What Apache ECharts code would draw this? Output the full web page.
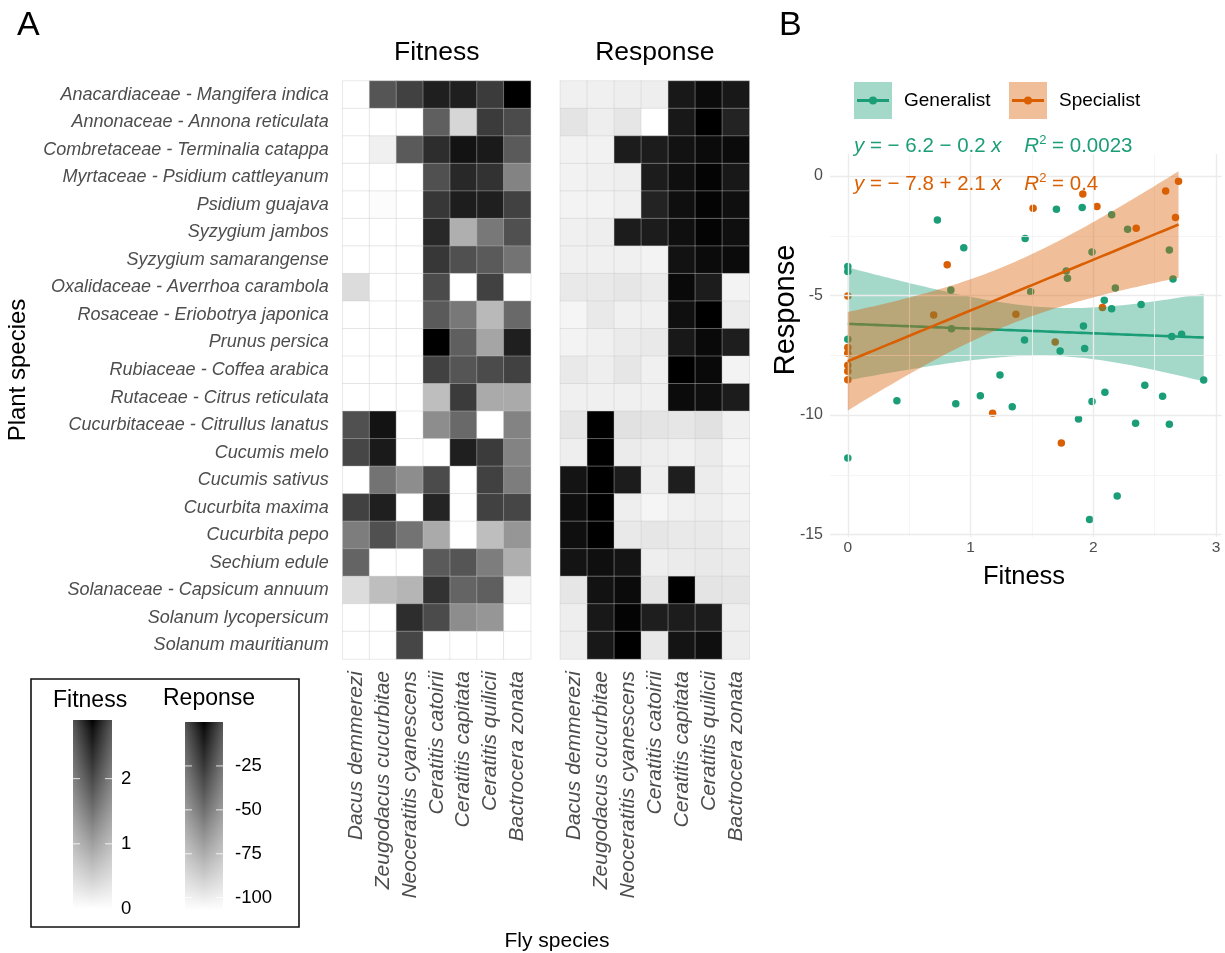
<!DOCTYPE html>
<html><head><meta charset="utf-8">
<script src="https://cdn.jsdelivr.net/npm/echarts@6/dist/echarts.min.js"></script>
<style>html,body{margin:0;padding:0;background:#fff}#c{width:1225px;height:953px}</style>
</head><body><div id="c"></div>
<script>
// ---------- DATA ----------
const plants = [
  'Anacardiaceae - Mangifera indica','Annonaceae - Annona reticulata','Combretaceae - Terminalia catappa',
  'Myrtaceae - Psidium cattleyanum','Psidium guajava','Syzygium jambos','Syzygium samarangense',
  'Oxalidaceae - Averrhoa carambola','Rosaceae - Eriobotrya japonica','Prunus persica',
  'Rubiaceae - Coffea arabica','Rutaceae - Citrus reticulata','Cucurbitaceae - Citrullus lanatus',
  'Cucumis melo','Cucumis sativus','Cucurbita maxima','Cucurbita pepo','Sechium edule',
  'Solanaceae - Capsicum annuum','Solanum lycopersicum','Solanum mauritianum'
];
const flies = ['Dacus demmerezi','Zeugodacus cucurbitae','Neoceratitis cyanescens','Ceratitis catoirii',
  'Ceratitis capitata','Ceratitis quilicii','Bactrocera zonata'];

const fitnessValues = [
  [0, 1.85, 2.10, 2.56, 2.56, 2.17, 2.90],
  [0, 0, 0, 1.73, 0.41, 2.17, 1.98],
  [0, 0.15, 1.79, 2.37, 2.72, 2.62, 1.79],
  [0, 0, 0, 1.91, 2.43, 2.30, 1.32],
  [0, 0.03, 0, 2.23, 2.58, 2.56, 2.10],
  [0, 0, 0, 2.43, 0.83, 1.44, 1.91],
  [0, 0, 0, 2.23, 1.91, 1.79, 1.49],
  [0.35, 0, 0, 1.98, 0, 2.10, 0],
  [0, 0, 0, 1.79, 1.44, 0.72, 1.61],
  [0, 0, 0, 2.90, 1.73, 0.94, 2.56],
  [0, 0, 0, 2.10, 1.85, 1.98, 2.10],
  [0, 0, 0, 0.67, 2.17, 0.88, 0.88],
  [1.91, 2.72, 0, 1.21, 1.61, 0, 1.32],
  [2.04, 2.62, 0, 0, 2.56, 2.17, 1.32],
  [0, 1.49, 1.21, 1.98, 0, 2.10, 1.38],
  [2.10, 2.56, 0, 2.49, 0, 2.10, 2.04],
  [1.38, 1.91, 1.49, 0.88, 0, 0.67, 1.10],
  [1.67, 0, 0, 1.79, 1.85, 1.38, 0.83],
  [0.35, 0.67, 0.77, 2.30, 1.67, 1.73, 0.12],
  [0, 0, 2.37, 1.98, 1.21, 1.10, 0],
  [0, 0, 2.04, 0, 0, 0, 0]
];
const responseValues = [
  [-101.4, -101.4, -100.7, -100.7, -9.3, -3.5, -9.3],
  [-96.9, -100.7, -97.7, -107.0, -9.3, 0, -14.7],
  [-102.2, -102.2, -11.0, -11.0, -5.9, -3.5, -3.5],
  [-102.2, -101.4, -100.7, -11.0, -4.6, -1.4, -9.3],
  [-102.5, -102.5, -101.4, -14.7, -4.6, -1.4, -4.6],
  [-101.4, -100.7, -11.0, -11.0, -4.6, -1.4, -4.6],
  [-101.4, -101.4, -101.4, -102.5, -5.9, -3.5, -3.5],
  [-98.8, -98.8, -97.7, -99.5, -2.9, -11.0, -102.5],
  [-103.3, -98.8, -101.4, -101.4, -4.6, 0, -99.9],
  [-102.5, -101.4, -99.5, -98.8, -9.3, -2.9, -12.0],
  [-98.8, -100.7, -97.7, -101.4, 0, -2.9, -102.5],
  [-101.4, -101.4, -101.4, -101.4, -3.5, -4.6, -11.0],
  [-97.7, 0, -95.8, -96.9, -97.7, -95.8, -101.4],
  [-100.7, 0, -99.5, -100.7, -101.4, -99.5, -103.3],
  [-6.8, 0, -11.0, -100.7, -12.0, -99.9, -102.5],
  [-4.6, 0, -100.7, -103.3, -101.4, -100.7, -102.5],
  [-4.6, 0, -98.8, -97.7, -98.8, -98.8, -100.7],
  [-6.8, -4.6, -6.8, -100.7, -99.5, -98.8, -99.5],
  [-97.7, -5.9, -3.5, -96.9, 0, -96.9, -97.7],
  [-100.7, -9.3, -1.4, -12.0, -11.0, -11.0, -100.7],
  [-100.7, -9.3, 0, -98.5, -6.8, -4.6, -100.7]
];
const fitnessRange = [0, 2.9];
const responseRange = [-107, 0];
const fitnessLegendTicks = [0, 1, 2];
const responseLegendTicks = [-100, -75, -50, -25];

const generalistFitness = [0, 0, 0.73, 0.945, 0.84, 1.445, 1.49, 1.70, 1.91, 1.78, 1.79, 1.99, 2.15, 2.28, 2.18,
  2.09, 2.15, 2.39, 2.62, 2.65, 0.845, 0, 1.92, 1.44, 1.73, 1.93, 2.64, 2.72, 2.90, 1.24, 0.40, 0.88, 1.08,
  1.34, 2.095, 1.99, 2.42, 2.565, 1.88, 2.345, 2.62, 0, 2.195, 1.97];
const generalistResponse = [-3.79, -4.0, -1.84, -3.0, -4.77, -2.61, -4.84, -1.39, -1.32, -3.97, -4.28, -3.18,
  -1.62, -2.23, -4.69, -5.2, -5.55, -5.38, -3.10, -4.31, -6.39, -6.83, -6.28, -6.86, -7.32, -7.22, -6.72,
  -6.62, -8.54, -8.33, -9.40, -9.53, -9.19, -9.65, -9.05, -9.43, -8.76, -9.22, -10.17, -10.35, -10.39,
  -11.8, -13.39, -14.37];
const specialistFitness = [0, 0, 0, 0, 0, 0, 0.70, 0.81, 1.18, 1.37, 1.51, 1.69, 1.74, 1.915, 2.03, 2.075,
  2.35, 2.59, 2.67, 2.695];
const specialistResponse = [-5.02, -7.18, -7.42, -7.92, -8.17, -8.52, -5.82, -3.71, -9.93, -5.78, -1.35,
  -6.95, -11.17, -0.75, -1.28, -5.5, -2.19, -0.63, -1.74, -0.22];

const scatterXTicks = [0, 1, 2, 3];
const scatterXMinor = [0.5, 1.5, 2.5];
const scatterYTicks = [-15, -10, -5, 0];
const scatterYMinor = [-12.5, -7.5, -2.5];
const groupNames = ['Generalist', 'Specialist'];
const eqTexts = ['{i|y} = \u2212 6.2 \u2212 0.2 {i|x}    {i|R}{s|2} = 0.0023', '{i|y} = \u2212 7.8 + 2.1 {i|x}    {i|R}{s|2} = 0.4'];

// ---------- helpers ----------
const FONT = 'Liberation Sans, Arial, Helvetica, sans-serif';
const TEAL = '#1B9E77', ORANGE = '#D95F02';
function labGray(t) {
  const L = 100 * (1 - t);
  const Y = L > 8 ? Math.pow((L + 16) / 116, 3) : L / 903.3;
  const s = Y <= 0.0031308 ? 12.92 * Y : 1.055 * Math.pow(Y, 1 / 2.4) - 0.055;
  const g = Math.round(Math.max(0, Math.min(1, s)) * 255);
  return 'rgb(' + g + ',' + g + ',' + g + ')';
}
const grays = [];
for (let i = 0; i <= 20; i++) grays.push(labGray(i / 20));

function heatData(m) {
  const out = [];
  m.forEach((row, r) => row.forEach((v, c) => out.push([c, r, v])));
  return out;
}
function tQuant(df) {
  const z = 1.959964;
  const g1 = (Math.pow(z, 3) + z) / 4;
  const g2 = (5 * Math.pow(z, 5) + 16 * Math.pow(z, 3) + 3 * z) / 96;
  const g3 = (3 * Math.pow(z, 7) + 19 * Math.pow(z, 5) + 17 * Math.pow(z, 3) - 15 * z) / 384;
  return z + g1 / df + g2 / (df * df) + g3 / (df * df * df);
}
function lmFit(xs, ys) {
  const n = xs.length;
  const mx = xs.reduce((a, b) => a + b, 0) / n, my = ys.reduce((a, b) => a + b, 0) / n;
  let sxx = 0, sxy = 0;
  for (let i = 0; i < n; i++) { sxx += (xs[i] - mx) ** 2; sxy += (xs[i] - mx) * (ys[i] - my); }
  const b = sxy / sxx, a = my - b * mx;
  let sse = 0;
  for (let i = 0; i < n; i++) sse += (ys[i] - a - b * xs[i]) ** 2;
  const s = Math.sqrt(sse / (n - 2)), tq = tQuant(n - 2);
  const x0 = Math.min(...xs), x1 = Math.max(...xs);
  const line = [], upper = [], lower = [];
  for (let k = 0; k < 80; k++) {
    const x = x0 + (x1 - x0) * k / 79;
    const yh = a + b * x;
    const se = s * Math.sqrt(1 / n + (x - mx) ** 2 / sxx);
    line.push([x, yh]); upper.push([x, yh + tq * se]); lower.push([x, yh - tq * se]);
  }
  return { line, upper, lower };
}
const fitG = lmFit(generalistFitness, generalistResponse);
const fitS = lmFit(specialistFitness, specialistResponse);
function zip(a, b) { return a.map((v, i) => [v, b[i]]); }

function bandSeries(fit, color, z) {
  return {
    type: 'custom', xAxisIndex: 2, yAxisIndex: 2, z: z, silent: true,
    data: [[fit.line[0][0], fit.line[0][1]]],
    renderItem: function (params, api) {
      const pts = fit.upper.map(p => api.coord(p)).concat(fit.lower.slice().reverse().map(p => api.coord(p)));
      return { type: 'polygon', shape: { points: pts }, style: { fill: color } };
    }
  };
}
function lineSeries(fit, color, z) {
  return {
    type: 'line', xAxisIndex: 2, yAxisIndex: 2, z: z, silent: true, showSymbol: false,
    data: fit.line, lineStyle: { color: color, width: 2.6 }, emphasis: { disabled: true }
  };
}

// ---------- layout ----------
const HM_TOP = 81, HM_H = 578;
const SC = { left: 830, top: 154, width: 391.5, height: 383 };
const SC_X = [-0.145, 3.045];
const SC_Y = [-(SC.top + SC.height - 176) / 23.9, (176 - SC.top) / 23.9];

const catAxisCommon = {
  type: 'category', axisLine: { show: false }, axisTick: { show: false }, splitLine: { show: false }
};

const chart = echarts.init(document.getElementById('c'), null, { renderer: 'canvas' });

function colorbar(x, y, w, h, range, ticks, labelX) {
  const stops = [];
  for (let i = 0; i <= 20; i++) stops.push({ offset: i / 20, color: labGray(1 - i / 20) });
  const els = [
    { type: 'rect', shape: { x: x, y: y, width: w, height: h },
      style: { fill: new echarts.graphic.LinearGradient(0, 0, 0, 1, stops) } },
    { type: 'rect', shape: { x: x, y: y, width: w, height: h },
      style: { fill: new echarts.graphic.LinearGradient(0, 0, 1, 0, [
        { offset: 0, color: 'rgba(255,255,255,0.32)' }, { offset: 0.5, color: 'rgba(255,255,255,0)' },
        { offset: 1, color: 'rgba(255,255,255,0.32)' }]) } }
  ];
  ticks.forEach(v => {
    const ty = y + h - (v - range[0]) / (range[1] - range[0]) * h;
    els.push({ type: 'line', shape: { x1: x, y1: ty, x2: x + 7, y2: ty }, style: { stroke: 'rgba(255,255,255,0.8)', lineWidth: 1 } });
    els.push({ type: 'line', shape: { x1: x + w - 7, y1: ty, x2: x + w, y2: ty }, style: { stroke: 'rgba(255,255,255,0.8)', lineWidth: 1 } });
    els.push({ type: 'text', x: labelX, y: ty, style: { text: String(v), font: '18.5px ' + FONT, fill: '#000', textVerticalAlign: 'middle', textAlign: 'left' } });
  });
  return els;
}

const graphics = [
  { type: 'text', x: 17, y: 26, style: { text: 'A', font: '34px ' + FONT, fill: '#000', textVerticalAlign: 'middle' } },
  { type: 'text', x: 779, y: 26, style: { text: 'B', font: '34px ' + FONT, fill: '#000', textVerticalAlign: 'middle' } },
  { type: 'text', x: 436.7, y: 53, style: { text: 'Fitness', font: '26.5px ' + FONT, fill: '#000', textAlign: 'center', textVerticalAlign: 'middle' } },
  { type: 'text', x: 654.8, y: 53, style: { text: 'Response', font: '26.5px ' + FONT, fill: '#000', textAlign: 'center', textVerticalAlign: 'middle' } },
  { type: 'text', x: 18, y: 370, rotation: Math.PI / 2, style: { text: 'Plant species', font: '24px ' + FONT, fill: '#000', textAlign: 'center', textVerticalAlign: 'middle' } },
  { type: 'text', x: 557, y: 941, style: { text: 'Fly species', font: '21px ' + FONT, fill: '#000', textAlign: 'center', textVerticalAlign: 'middle' } },
  { type: 'rect', shape: { x: 31, y: 679, width: 268, height: 248 }, style: { fill: 'none', stroke: '#111', lineWidth: 1.6 } },
  { type: 'text', x: 53, y: 701, style: { text: 'Fitness', font: '23px ' + FONT, fill: '#000', textVerticalAlign: 'middle' } },
  { type: 'text', x: 163, y: 699, style: { text: 'Reponse', font: '23px ' + FONT, fill: '#000', textVerticalAlign: 'middle' } },
  ...colorbar(73, 720, 39, 189, fitnessRange, fitnessLegendTicks, 121),
  ...colorbar(185, 722, 38, 188, responseRange, responseLegendTicks, 235),
  { type: 'text', x: 1024, y: 577, style: { text: 'Fitness', font: '25.5px ' + FONT, fill: '#000', textAlign: 'center', textVerticalAlign: 'middle' } },
  { type: 'text', x: 786, y: 310, rotation: Math.PI / 2, style: { text: 'Response', font: '29px ' + FONT, fill: '#000', textAlign: 'center', textVerticalAlign: 'middle' } },
  { type: 'rect', shape: { x: 854, y: 82, width: 38, height: 37 }, style: { fill: 'rgba(27,158,119,0.4)' } },
  { type: 'line', shape: { x1: 857, y1: 100.5, x2: 889, y2: 100.5 }, style: { stroke: TEAL, lineWidth: 3 } },
  { type: 'circle', shape: { cx: 873, cy: 100.5, r: 4 }, style: { fill: TEAL } },
  { type: 'text', x: 904, y: 101, style: { text: groupNames[0], font: '19px ' + FONT, fill: '#000', textVerticalAlign: 'middle' } },
  { type: 'rect', shape: { x: 1009, y: 82, width: 38, height: 37 }, style: { fill: 'rgba(217,95,2,0.4)' } },
  { type: 'line', shape: { x1: 1012, y1: 100.5, x2: 1044, y2: 100.5 }, style: { stroke: ORANGE, lineWidth: 3 } },
  { type: 'circle', shape: { cx: 1028, cy: 100.5, r: 4 }, style: { fill: ORANGE } },
  { type: 'text', x: 1059, y: 101, style: { text: groupNames[1], font: '19px ' + FONT, fill: '#000', textVerticalAlign: 'middle' } },
  { type: 'text', x: 854, y: 146, z: 100, style: { text: eqTexts[0], font: '20.5px ' + FONT, fill: TEAL, textVerticalAlign: 'middle',
      rich: { i: { fontStyle: 'italic', fontSize: 20.5, fontFamily: FONT, fill: TEAL }, s: { fontSize: 13, fontFamily: FONT, fill: TEAL, padding: [0, 0, 12, 0] } } } },
  { type: 'text', x: 854, y: 184, z: 100, style: { text: eqTexts[1], font: '20.5px ' + FONT, fill: ORANGE, textVerticalAlign: 'middle',
      rich: { i: { fontStyle: 'italic', fontSize: 20.5, fontFamily: FONT, fill: ORANGE }, s: { fontSize: 13, fontFamily: FONT, fill: ORANGE, padding: [0, 0, 12, 0] } } } }
];

function gridMarkLines() {
  const maj = { color: '#EBEBEB', width: 1.4, type: 'solid' };
  const mnr = { color: '#F2F2F2', width: 0.8, type: 'solid' };
  const d = [];
  scatterXTicks.forEach(v => d.push({ xAxis: v, lineStyle: maj }));
  scatterXMinor.forEach(v => d.push({ xAxis: v, lineStyle: mnr }));
  scatterYTicks.forEach(v => d.push({ yAxis: v, lineStyle: maj }));
  scatterYMinor.forEach(v => d.push({ yAxis: v, lineStyle: mnr }));
  return d;
}

const option = {
  animation: false,
  backgroundColor: '#fff',
  textStyle: { fontFamily: FONT },
  grid: [
    { left: 342.7, top: HM_TOP, width: 188, height: HM_H },
    { left: 560.3, top: HM_TOP, width: 189, height: HM_H },
    { left: SC.left, top: SC.top, width: SC.width, height: SC.height }
  ],
  xAxis: [
    Object.assign({}, catAxisCommon, { gridIndex: 0, data: flies,
      axisLabel: { rotate: 90, interval: 0, fontStyle: 'italic', fontSize: 21, color: '#4D4D4D', margin: 12, fontFamily: FONT } }),
    Object.assign({}, catAxisCommon, { gridIndex: 1, data: flies,
      axisLabel: { rotate: 90, interval: 0, fontStyle: 'italic', fontSize: 21, color: '#4D4D4D', margin: 12, fontFamily: FONT } }),
    { type: 'value', gridIndex: 2, min: SC_X[0], max: SC_X[1], splitLine: { show: false },
      axisLine: { show: false },
      axisTick: { show: true, length: 3, customValues: scatterXTicks, lineStyle: { color: '#333' } },
      axisLabel: { customValues: scatterXTicks, fontSize: 15.5, color: '#4D4D4D', margin: 3, fontFamily: FONT } }
  ],
  yAxis: [
    Object.assign({}, catAxisCommon, { gridIndex: 0, data: plants, inverse: true,
      axisLabel: { interval: 0, fontStyle: 'italic', fontSize: 18, color: '#4D4D4D', margin: 14, fontFamily: FONT } }),
    Object.assign({}, catAxisCommon, { gridIndex: 1, data: plants, inverse: true, axisLabel: { show: false } }),
    { type: 'value', gridIndex: 2, min: SC_Y[0], max: SC_Y[1], splitLine: { show: false },
      axisLine: { show: false },
      axisTick: { show: true, length: 4, customValues: scatterYTicks, lineStyle: { color: '#333' } },
      axisLabel: { customValues: scatterYTicks, fontSize: 16, color: '#4D4D4D', margin: 7, fontFamily: FONT } }
  ],
  visualMap: [
    { type: 'continuous', show: false, seriesIndex: 0, min: fitnessRange[0], max: fitnessRange[1], inRange: { color: grays } },
    { type: 'continuous', show: false, seriesIndex: 1, min: responseRange[0], max: responseRange[1], inRange: { color: grays } }
  ],
  series: [
    { type: 'heatmap', xAxisIndex: 0, yAxisIndex: 0, data: heatData(fitnessValues),
      itemStyle: { borderColor: 'rgba(200,200,200,0.4)', borderWidth: 1 }, emphasis: { disabled: true } },
    { type: 'heatmap', xAxisIndex: 1, yAxisIndex: 1, data: heatData(responseValues),
      itemStyle: { borderColor: 'rgba(200,200,200,0.4)', borderWidth: 1 }, emphasis: { disabled: true } },
    { type: 'line', xAxisIndex: 2, yAxisIndex: 2, z: 1, silent: true, data: [], showSymbol: false,
      markLine: { silent: true, symbol: ['none', 'none'], label: { show: false }, animation: false, data: gridMarkLines() } },
    { type: 'scatter', name: groupNames[0], xAxisIndex: 2, yAxisIndex: 2, z: 2, symbolSize: 7.5,
      itemStyle: { color: TEAL, opacity: 1 }, data: zip(generalistFitness, generalistResponse), emphasis: { disabled: true } },
    { type: 'scatter', name: groupNames[1], xAxisIndex: 2, yAxisIndex: 2, z: 2, symbolSize: 7.5,
      itemStyle: { color: ORANGE, opacity: 1 }, data: zip(specialistFitness, specialistResponse), emphasis: { disabled: true } },
    bandSeries(fitG, 'rgba(27,158,119,0.4)', 3),
    lineSeries(fitG, TEAL, 4),
    bandSeries(fitS, 'rgba(217,95,2,0.4)', 5),
    lineSeries(fitS, ORANGE, 6)
  ],
  graphic: graphics
};
chart.setOption(option);
</script>
</body></html>
